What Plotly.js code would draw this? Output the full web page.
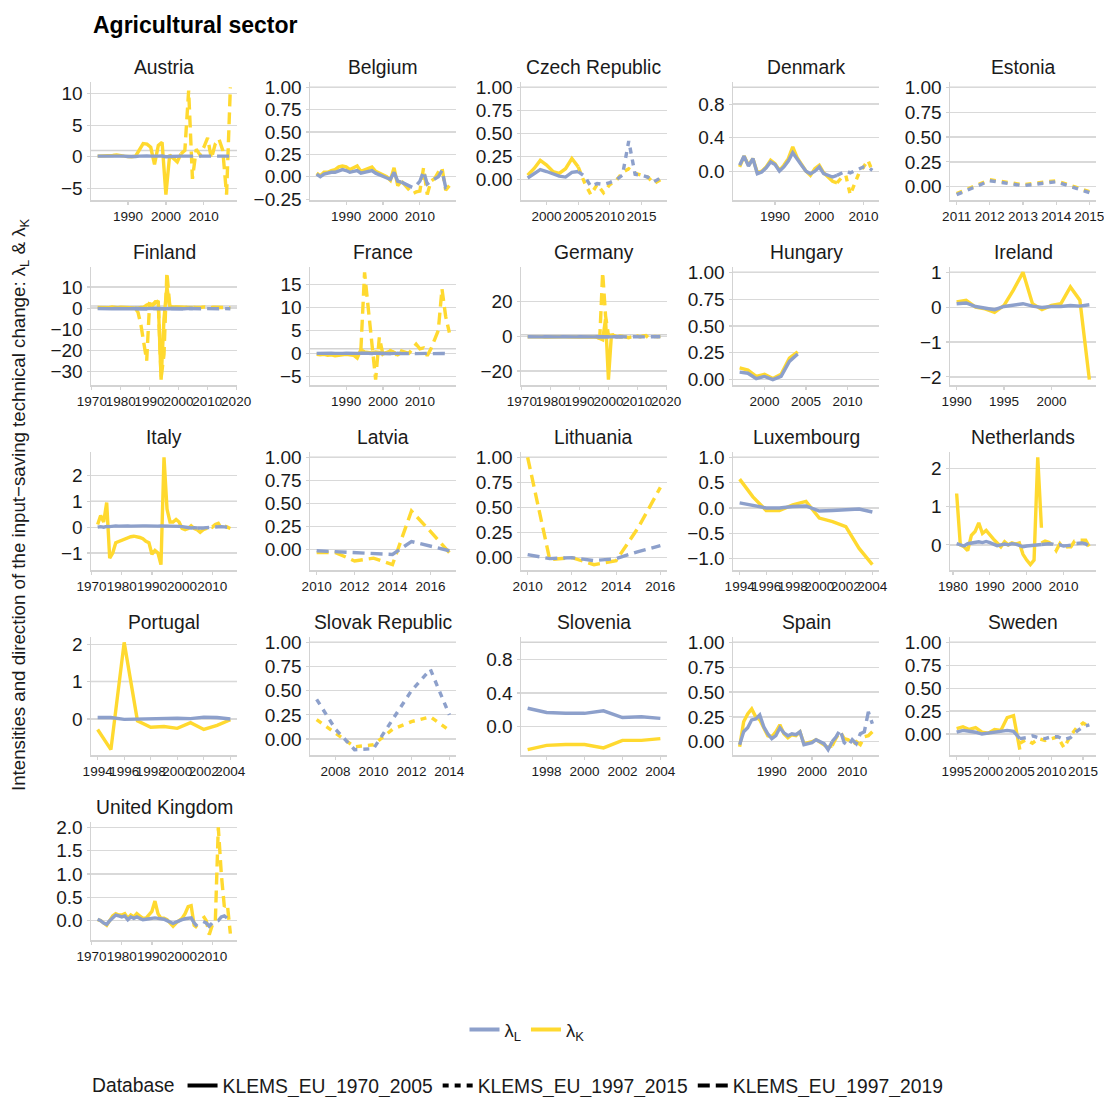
<!DOCTYPE html>
<html><head><meta charset="utf-8">
<script src="https://cdn.plot.ly/plotly-3.0.1.min.js"></script>
<style>html,body{margin:0;padding:0;background:#fff}</style>
</head><body><div id="chart" style="width:1104px;height:1097px"></div>
<script>
// ---------- DATA ----------
const databases = ["KLEMS_EU_1970_2005", "KLEMS_EU_1997_2015", "KLEMS_EU_1997_2019"];

// Austria
const AT_yr1 = [1982,1983,1984,1985,1986,1987,1988,1989,1990,1991,1992,1993,1994,1995,1996,1997,1998,1999,2000,2001,2002,2003,2004];
const AT_K1 = [0.1,0.1,0.15,0.2,0.2,0.3,0.15,0.1,0.05,0.0,0.1,1.0,2.1,2.0,1.5,-1.2,1.8,2.3,-6.0,0.3,-0.3,-0.8,0.5];
const AT_L1 = [0.1,0.12,0.1,0.15,0.12,0.1,0.08,0.1,0.05,0.02,0.05,0.1,0.15,0.12,0.1,0.05,0.1,0.12,0.0,0.05,0.08,0.05,0.1];
const AT_yr2 = [2004,2005,2006,2007,2008,2009,2010,2011,2012,2013,2014,2015,2016,2017];
const AT_K2 = [0.5,1.0,10.5,-3.5,1.2,0.3,1.5,3.0,-0.3,2.0,2.8,1.0,-6.0,11.0];
const AT_L2 = [0.1,0.1,0.12,0.1,0.05,0.05,0.1,0.1,0.05,0.05,0.08,0.1,0.05,0.1];
const AT_xt = ["1990","2000","2010"];
const AT_yt = ["−5","0","5","10"];

// Belgium
const BE_yr1 = [1982,1983,1984,1985,1986,1987,1988,1989,1990,1991,1992,1993,1994,1995,1996,1997,1998,1999,2000,2001,2002,2003,2004,2005];
const BE_K1 = [0.04,0.01,0.05,0.05,0.07,0.08,0.11,0.12,0.11,0.08,0.10,0.12,0.06,0.08,0.09,0.11,0.06,0.04,0.03,0.0,-0.04,0.1,-0.1,-0.05];
const BE_L1 = [0.03,0.0,0.03,0.04,0.05,0.05,0.07,0.08,0.07,0.05,0.06,0.07,0.04,0.05,0.06,0.07,0.04,0.02,0.0,-0.01,-0.03,0.05,-0.05,-0.06];
const BE_yr2 = [2005,2006,2007,2008,2009,2010,2011,2012,2013,2014,2015,2016,2017,2018];
const BE_K2 = [-0.05,-0.1,-0.15,-0.19,-0.17,-0.16,0.1,-0.2,-0.05,-0.02,0.05,0.1,-0.15,-0.1];
const BE_L2 = [-0.06,-0.08,-0.1,-0.12,-0.1,-0.05,0.06,-0.08,-0.05,-0.03,0.0,0.07,-0.12,-0.1];
const BE_xt = ["1990","2000","2010"];
const BE_yt = ["−0.25","0.00","0.25","0.50","0.75","1.00"];

// Czech Republic
const CZ_yr1 = [1997,1998,1999,2000,2001,2002,2003,2004,2005];
const CZ_K1 = [0.05,0.12,0.21,0.16,0.09,0.07,0.12,0.23,0.14];
const CZ_L1 = [0.02,0.07,0.11,0.09,0.06,0.04,0.03,0.08,0.09];
const CZ_yr2 = [2005,2006,2007,2008,2009,2010,2011,2012,2013,2014,2015,2016,2017,2018];
const CZ_K2 = [0.14,-0.03,-0.16,-0.05,-0.14,-0.05,-0.01,0.08,0.12,0.07,0.05,0.03,-0.04,0.0];
const CZ_L2 = [0.09,0.04,-0.07,-0.04,-0.05,-0.03,0.0,0.05,0.42,0.06,0.05,0.03,-0.02,0.02];
const CZ_xt = ["2000","2005","2010","2015"];
const CZ_yt = ["0.00","0.25","0.50","0.75","1.00"];

// Denmark
const DK_yr1 = [1982,1983,1984,1985,1986,1987,1988,1989,1990,1991,1992,1993,1994,1995,1996,1997,1998,1999,2000,2001,2002,2003,2004];
const DK_K1 = [0.05,0.18,0.07,0.15,-0.02,0.0,0.05,0.13,0.09,0.01,0.07,0.15,0.29,0.16,0.08,0.0,-0.05,0.03,0.07,-0.02,-0.07,-0.12,-0.14];
const DK_L1 = [0.07,0.18,0.06,0.15,-0.03,-0.01,0.04,0.11,0.08,0.0,0.05,0.12,0.22,0.14,0.07,0.0,-0.03,0.0,0.05,-0.03,-0.05,-0.07,-0.05];
const DK_yr2 = [2004,2005,2006,2007,2008,2009,2010,2011,2012];
const DK_K2 = [-0.14,-0.08,-0.05,-0.28,-0.15,-0.02,0.05,0.13,0.0];
const DK_L2 = [-0.05,-0.03,0.0,-0.02,0.0,0.02,0.05,0.05,0.01];
const DK_xt = ["1990","2000","2010"];
const DK_yt = ["0.0","0.4","0.8"];

// Estonia
const EE_yr2 = [2011,2012,2013,2014,2015];
const EE_K2 = [-0.07,0.07,0.02,0.06,-0.05];
const EE_L2 = [-0.08,0.06,0.01,0.05,-0.06];
const EE_xt = ["2011","2012","2013","2014","2015"];
const EE_yt = ["0.00","0.25","0.50","0.75","1.00"];

// Finland
const FI_yr1 = [1972,1973,1974,1975,1976,1977,1978,1979,1980,1981,1982,1983,1984,1985,1986,1987,1988,1989,1990,1991,1992,1993,1994,1995,1996,1997,1998,1999,2000,2001,2002,2003,2004,2005];
const FI_K1 = [0.3,0.2,0.4,0.3,0.2,0.5,0.3,0.2,0.4,0.3,0.2,0.3,0.4,0.2,0.0,0.3,0.5,1.5,2.0,1.5,2.5,3.5,-34.0,-5.0,10.0,1.0,0.5,0.4,0.3,0.5,0.3,0.4,0.3,0.3];
const FI_L1 = [-0.2,-0.3,-0.2,-0.3,-0.2,-0.3,-0.2,-0.3,-0.2,-0.3,-0.2,-0.3,-0.2,-0.3,-0.2,-0.3,-0.2,-0.3,-0.1,-0.2,-0.3,-0.2,-0.4,-0.2,-0.3,-0.2,-0.3,-0.2,-0.3,-0.2,-0.3,-0.2,-0.3,-0.2];
const FI_yr2 = [1985,1986,1987,1988,1989,1990,1991,1992,1993,1994,1995,1996,1997,1998,1999,2000,2001,2002,2003,2004,2005,2006,2007,2008,2009,2010,2011,2012,2013,2014,2015,2016,2017,2018];
const FI_K2 = [0.0,-2.0,-8.0,-17.0,-25.0,2.0,1.5,3.0,3.0,-33.0,-22.0,17.0,1.0,0.5,0.3,0.5,0.3,0.2,0.4,0.3,0.5,0.3,0.2,0.4,0.6,0.3,0.2,0.4,0.3,0.6,0.3,0.2,0.3,0.2];
const FI_L2 = [-0.2,-0.3,-0.2,-0.3,-0.2,-0.3,-0.2,-0.3,-0.2,-0.3,-0.2,-0.3,-0.2,-0.3,-0.2,-0.3,-0.2,-0.3,-0.2,-0.3,-0.2,-0.3,-0.2,-0.3,-0.2,-0.3,-0.2,-0.3,-0.2,-0.3,-0.2,-0.3,-0.2,-0.3];
const FI_xt = ["1970","1980","1990","2000","2010","2020"];
const FI_yt = ["−30","−20","−10","0","10"];

// France
const FR_yr1 = [1982,1983,1984,1985,1986,1987,1988,1989,1990,1991,1992,1993,1994,1995,1996,1997,1998,1999,2000,2001,2002,2003,2004,2005];
const FR_K1 = [-0.2,-0.3,-0.2,-0.4,-0.3,-0.5,-0.4,-0.3,-0.2,-0.3,-0.4,-1.0,0.8,0.3,0.2,0.1,0.3,0.2,-0.1,0.3,0.5,0.2,-0.3,0.2];
const FR_L1 = [0.0,0.05,-0.05,0.0,0.05,0.0,-0.05,0.0,0.05,0.0,-0.05,0.0,0.05,0.0,-0.05,0.0,0.05,0.0,0.1,0.0,-0.05,0.0,0.05,0.0];
const FR_yr2 = [1994,1995,1996,1997,1998,1999,2000,2001,2002,2003,2004,2005,2006,2007,2008,2009,2010,2011,2012,2013,2014,2015,2016,2017,2018];
const FR_K2 = [0.8,17.6,9.8,2.0,-5.7,3.5,-0.3,-0.5,0.6,0.2,-0.5,0.5,0.3,0.0,1.0,2.0,1.0,1.2,-0.5,1.0,3.0,5.0,14.0,8.0,4.5];
const FR_L2 = [0.0,0.05,0.0,-0.05,0.0,0.05,0.0,-0.05,0.0,0.05,0.0,-0.05,0.0,0.05,0.0,-0.05,0.0,0.05,0.0,-0.05,0.0,0.05,0.0,-0.05,0.0];
const FR_xt = ["1990","2000","2010"];
const FR_yt = ["−5","0","5","10","15"];

// Germany
const DE_yr1 = [1972,1973,1974,1975,1976,1977,1978,1979,1980,1981,1982,1983,1984,1985,1986,1987,1988,1989,1990,1991,1992,1993,1994,1995,1996,1997,1998,1999,2000,2001,2002,2003,2004,2005];
const DE_K1 = [-0.3,-0.2,-0.4,-0.3,-0.2,-0.3,-0.4,-0.3,-0.2,-0.3,-0.4,-0.3,-0.2,-0.3,-0.4,-0.3,-0.2,-0.3,-0.4,-0.3,-0.2,-0.5,-0.3,-0.4,-0.5,-1.5,-2.0,10.0,-25.0,0.0,0.5,-0.3,0.2,-0.2];
const DE_L1 = [-0.2,-0.3,-0.2,-0.3,-0.2,-0.3,-0.2,-0.3,-0.2,-0.3,-0.2,-0.3,-0.2,-0.3,-0.2,-0.3,-0.2,-0.3,-0.2,-0.3,-0.2,-0.3,-0.2,-0.3,-0.2,-0.3,-0.2,-0.3,-0.2,-0.3,-0.2,-0.3,-0.2,-0.3];
const DE_yr2 = [1996,1997,1998,1999,2000,2001,2002,2003,2004,2005,2006,2007,2008,2009,2010,2011,2012,2013,2014,2015,2016,2017,2018];
const DE_K2 = [-0.5,-1.0,37.0,12.0,0.5,0.8,1.0,0.2,-0.3,0.0,-0.5,-0.8,-0.3,-0.5,0.2,-0.3,0.3,0.5,-1.0,-0.3,0.0,-0.2,0.0];
const DE_L2 = [-0.2,-0.3,-0.2,-0.3,-0.2,-0.3,-0.2,-0.3,-0.2,-0.3,-0.2,-0.3,-0.2,-0.3,-0.2,-0.3,-0.2,-0.3,-0.2,-0.3,-0.2,-0.3,-0.2];
const DE_xt = ["1970","1980","1990","2000","2010","2020"];
const DE_yt = ["−20","0","20"];

// Hungary
const HU_yr1 = [1997,1998,1999,2000,2001,2002,2003,2004];
const HU_K1 = [0.11,0.09,0.03,0.05,0.01,0.05,0.2,0.26];
const HU_L1 = [0.07,0.06,0.01,0.03,0.0,0.03,0.17,0.24];
const HU_span = [1997, 2013];
const HU_xt = ["2000","2005","2010"];
const HU_yt = ["0.00","0.25","0.50","0.75","1.00"];

// Ireland
const IE_yr1 = [1990,1991,1992,1993,1994,1995,1996,1997,1998,1999,2000,2001,2002,2003,2004];
const IE_K1 = [0.15,0.2,0.0,-0.05,-0.15,0.05,0.5,1.0,0.1,-0.07,0.05,0.1,0.58,0.2,-2.08];
const IE_L1 = [0.1,0.12,0.02,-0.03,-0.07,0.02,0.06,0.1,0.03,-0.01,0.02,0.02,0.05,0.03,0.07];
const IE_xt = ["1990","1995","2000"];
const IE_yt = ["−2","−1","0","1"];

// Italy
const IT_yr1 = [1972,1973,1974,1975,1976,1977,1978,1979,1980,1981,1982,1983,1984,1985,1986,1987,1988,1989,1990,1991,1992,1993,1994,1995,1996,1997,1998,1999,2000,2001,2002,2003,2004,2005];
const IT_K1 = [0.1,0.45,0.2,0.95,-1.2,-1.0,-0.6,-0.55,-0.5,-0.45,-0.4,-0.37,-0.35,-0.37,-0.4,-0.45,-0.55,-0.6,-1.05,-0.9,-1.0,-1.45,2.7,0.7,0.2,0.2,0.3,0.2,-0.05,-0.1,-0.05,0.05,-0.05,-0.1];
const IT_L1 = [0.0,0.02,0.0,0.03,0.02,0.04,0.05,0.04,0.05,0.05,0.05,0.04,0.05,0.05,0.06,0.05,0.05,0.04,0.05,0.05,0.04,0.05,0.05,0.06,0.05,0.05,0.04,0.03,0.02,0.0,-0.02,-0.03,-0.02,-0.03];
const IT_yr2 = [2005,2006,2007,2008,2009,2010,2011,2012,2013,2014,2015,2016];
const IT_K2 = [-0.1,-0.2,-0.1,-0.05,0.05,0.0,0.1,0.15,-0.05,0.05,0.0,-0.05];
const IT_L2 = [-0.03,-0.04,-0.03,-0.02,-0.01,0.0,0.02,0.03,0.02,0.01,0.0,-0.02];
const IT_xt = ["1970","1980","1990","2000","2010"];
const IT_yt = ["−1","0","1","2"];

// Latvia
const LV_yr2 = [2010,2011,2012,2013,2014,2015,2016,2017];
const LV_K2 = [-0.03,-0.03,-0.12,-0.09,-0.16,0.42,0.2,-0.03];
const LV_L2 = [-0.01,-0.02,-0.03,-0.04,-0.05,0.09,0.04,-0.01];
const LV_xt = ["2010","2012","2014","2016"];
const LV_yt = ["0.00","0.25","0.50","0.75","1.00"];

// Lithuania
const LT_yr2 = [2010,2011,2012,2013,2014,2015,2016];
const LT_K2 = [1.0,-0.02,0.0,-0.07,-0.03,0.3,0.7];
const LT_L2 = [0.03,-0.01,0.0,-0.03,-0.01,0.06,0.12];
const LT_xt = ["2010","2012","2014","2016"];
const LT_yt = ["0.00","0.25","0.50","0.75","1.00"];

// Luxembourg
const LU_yr1 = [1994,1995,1996,1997,1998,1999,2000,2001,2002,2003,2004];
const LU_K1 = [0.57,0.22,-0.05,-0.05,0.06,0.13,-0.2,-0.27,-0.37,-0.8,-1.12];
const LU_L1 = [0.1,0.05,0.0,0.0,0.03,0.04,-0.06,-0.05,-0.04,-0.02,-0.08];
const LU_xt = ["1994","1996","1998","2000","2002","2004"];
const LU_yt = ["−1.0","−0.5","0.0","0.5","1.0"];

// Netherlands
const NL_yr1 = [1981,1982,1983,1984,1985,1986,1987,1988,1989,1990,1991,1992,1993,1994,1995,1996,1997,1998,1999,2000,2001,2002,2003,2004];
const NL_K1 = [1.35,0.0,-0.05,-0.15,0.25,0.35,0.58,0.3,0.38,0.25,0.15,0.05,-0.05,0.08,0.0,0.05,0.02,0.05,-0.25,-0.4,-0.52,-0.4,2.3,0.45];
const NL_L1 = [0.03,0.0,-0.03,0.03,0.05,0.06,0.08,0.06,0.09,0.06,0.03,-0.02,0.0,0.02,0.0,0.03,0.02,-0.02,-0.05,-0.03,-0.02,0.0,0.02,0.01];
const NL_yr2 = [2004,2005,2006,2007,2008,2009,2010,2011,2012,2013,2014,2015,2016,2017];
const NL_K2 = [0.05,0.1,0.07,0.0,-0.15,0.03,-0.1,-0.05,-0.05,0.1,0.12,0.13,0.12,-0.05];
const NL_L2 = [0.01,0.03,0.03,0.02,-0.02,0.0,-0.03,-0.02,-0.01,0.03,0.05,0.05,0.03,-0.05];
const NL_xt = ["1980","1990","2000","2010"];
const NL_yt = ["0","1","2"];

// Portugal
const PT_yr1 = [1994,1995,1996,1997,1998,1999,2000,2001,2002,2003,2004];
const PT_K1 = [-0.28,-0.82,2.05,-0.05,-0.22,-0.2,-0.25,-0.1,-0.28,-0.17,-0.02];
const PT_L1 = [0.04,0.04,-0.01,0.0,0.01,0.01,0.02,0.01,0.05,0.04,0.0];
const PT_xt = ["1994","1996","1998","2000","2002","2004"];
const PT_yt = ["0","1","2"];

// Slovak Republic
const SK_yr2 = [2007,2008,2009,2010,2011,2012,2013,2014];
const SK_K2 = [0.2,0.06,-0.08,-0.06,0.1,0.18,0.23,0.09];
const SK_L2 = [0.41,0.1,-0.11,-0.1,0.2,0.5,0.72,0.25];
const SK_xt = ["2008","2010","2012","2014"];
const SK_yt = ["0.00","0.25","0.50","0.75","1.00"];

// Slovenia
const SI_yr1 = [1997,1998,1999,2000,2001,2002,2003,2004];
const SI_K1 = [-0.27,-0.22,-0.21,-0.21,-0.25,-0.16,-0.16,-0.14];
const SI_L1 = [0.22,0.17,0.16,0.16,0.19,0.11,0.12,0.1];
const SI_xt = ["1998","2000","2002","2004"];
const SI_yt = ["0.0","0.4","0.8"];

// Spain
const ES_yr1 = [1982,1983,1984,1985,1986,1987,1988,1989,1990,1991,1992,1993,1994,1995,1996,1997,1998,1999,2000,2001,2002,2003,2004,2005];
const ES_K1 = [-0.05,0.2,0.28,0.33,0.25,0.22,0.14,0.06,0.05,0.1,0.17,0.08,0.04,0.07,0.06,0.1,-0.02,-0.01,0.0,0.02,-0.01,-0.04,-0.06,-0.04];
const ES_L1 = [-0.03,0.1,0.14,0.22,0.23,0.27,0.15,0.08,0.03,0.06,0.14,0.09,0.06,0.08,0.07,0.1,-0.03,-0.02,-0.01,0.02,0.0,-0.02,-0.08,0.0];
const ES_yr2 = [2005,2006,2007,2008,2009,2010,2011,2012,2013,2014,2015];
const ES_K2 = [-0.04,0.04,0.1,0.03,0.02,-0.03,0.0,-0.03,0.05,0.06,0.1];
const ES_L2 = [0.0,0.05,0.12,-0.01,-0.04,0.02,-0.02,0.08,0.1,0.3,0.18];
const ES_xt = ["1990","2000","2010"];
const ES_yt = ["0.00","0.25","0.50","0.75","1.00"];

// Sweden
const SE_yr1 = [1995,1996,1997,1998,1999,2000,2001,2002,2003,2004,2005];
const SE_K1 = [0.06,0.08,0.05,0.07,0.02,0.01,0.05,0.04,0.18,0.2,-0.17];
const SE_L1 = [0.02,0.04,0.03,0.02,0.0,0.01,0.02,0.03,0.04,0.03,-0.05];
const SE_yr2 = [2005,2006,2007,2008,2009,2010,2011,2012,2013,2014,2015,2016];
const SE_K2 = [-0.1,-0.06,-0.1,-0.05,-0.07,-0.05,-0.03,-0.15,-0.02,0.07,0.12,0.08];
const SE_L2 = [-0.05,-0.04,-0.02,-0.04,-0.05,-0.03,-0.03,-0.06,-0.04,0.03,0.08,0.1];
const SE_xt = ["1995","2000","2005","2010","2015"];
const SE_yt = ["−0.25","0.00","0.25","0.50","0.75","1.00"];

// United Kingdom
const UK_yr1 = [1972,1973,1974,1975,1976,1977,1978,1979,1980,1981,1982,1983,1984,1985,1986,1987,1988,1989,1990,1991,1992,1993,1994,1995,1996,1997,1998,1999,2000,2001,2002,2003,2004,2005];
const UK_K1 = [0.02,0.0,-0.05,-0.1,0.0,0.1,0.15,0.12,0.12,0.15,0.05,0.12,0.08,0.15,0.1,0.05,0.05,0.12,0.2,0.42,0.15,0.05,0.05,0.02,-0.05,-0.12,-0.05,0.0,0.05,0.15,0.3,0.32,-0.1,-0.15];
const UK_L1 = [0.03,0.0,-0.05,-0.08,0.0,0.05,0.12,0.1,0.08,0.1,0.02,0.08,0.05,0.08,0.04,0.02,0.03,0.04,0.05,0.06,0.05,0.04,0.03,0.0,-0.03,-0.06,-0.03,0.0,0.02,0.04,0.05,0.06,-0.05,-0.12];
const UK_yr2 = [2007,2008,2009,2010,2011,2012,2013,2014,2015,2016];
const UK_K2 = [0.1,0.0,-0.3,-0.1,-0.05,2.0,1.0,0.3,0.35,-0.28];
const UK_L2 = [-0.02,-0.05,-0.12,-0.05,-0.02,0.0,0.08,0.1,0.05,-0.05];
const UK_xt = ["1970","1980","1990","2000","2010"];
const UK_yt = ["−0.5","0.0","0.5","1.0","1.5","2.0"];

// ---------- PANEL TABLE (built from the arrays) ----------
const panels = [
  {name:"Austria", xt:AT_xt, yt:AT_yt, segs:[[AT_yr1,AT_L1,AT_K1,0],[AT_yr2,AT_L2,AT_K2,2]]},
  {name:"Belgium", xt:BE_xt, yt:BE_yt, segs:[[BE_yr1,BE_L1,BE_K1,0],[BE_yr2,BE_L2,BE_K2,2]]},
  {name:"Czech Republic", xt:CZ_xt, yt:CZ_yt, segs:[[CZ_yr1,CZ_L1,CZ_K1,0],[CZ_yr2,CZ_L2,CZ_K2,1]]},
  {name:"Denmark", xt:DK_xt, yt:DK_yt, segs:[[DK_yr1,DK_L1,DK_K1,0],[DK_yr2,DK_L2,DK_K2,1]]},
  {name:"Estonia", xt:EE_xt, yt:EE_yt, segs:[[EE_yr2,EE_L2,EE_K2,1]]},
  {name:"Finland", xt:FI_xt, yt:FI_yt, segs:[[FI_yr1,FI_L1,FI_K1,0],[FI_yr2,FI_L2,FI_K2,2]]},
  {name:"France", xt:FR_xt, yt:FR_yt, segs:[[FR_yr1,FR_L1,FR_K1,0],[FR_yr2,FR_L2,FR_K2,2]]},
  {name:"Germany", xt:DE_xt, yt:DE_yt, segs:[[DE_yr1,DE_L1,DE_K1,0],[DE_yr2,DE_L2,DE_K2,2]]},
  {name:"Hungary", xt:HU_xt, yt:HU_yt, span:HU_span, segs:[[HU_yr1,HU_L1,HU_K1,0]]},
  {name:"Ireland", xt:IE_xt, yt:IE_yt, segs:[[IE_yr1,IE_L1,IE_K1,0]]},
  {name:"Italy", xt:IT_xt, yt:IT_yt, segs:[[IT_yr1,IT_L1,IT_K1,0],[IT_yr2,IT_L2,IT_K2,2]]},
  {name:"Latvia", xt:LV_xt, yt:LV_yt, segs:[[LV_yr2,LV_L2,LV_K2,2]]},
  {name:"Lithuania", xt:LT_xt, yt:LT_yt, segs:[[LT_yr2,LT_L2,LT_K2,2]]},
  {name:"Luxembourg", xt:LU_xt, yt:LU_yt, segs:[[LU_yr1,LU_L1,LU_K1,0]]},
  {name:"Netherlands", xt:NL_xt, yt:NL_yt, segs:[[NL_yr1,NL_L1,NL_K1,0],[NL_yr2,NL_L2,NL_K2,2]]},
  {name:"Portugal", xt:PT_xt, yt:PT_yt, segs:[[PT_yr1,PT_L1,PT_K1,0]]},
  {name:"Slovak Republic", xt:SK_xt, yt:SK_yt, segs:[[SK_yr2,SK_L2,SK_K2,1]]},
  {name:"Slovenia", xt:SI_xt, yt:SI_yt, segs:[[SI_yr1,SI_L1,SI_K1,0]]},
  {name:"Spain", xt:ES_xt, yt:ES_yt, segs:[[ES_yr1,ES_L1,ES_K1,0],[ES_yr2,ES_L2,ES_K2,2]]},
  {name:"Sweden", xt:SE_xt, yt:SE_yt, segs:[[SE_yr1,SE_L1,SE_K1,0],[SE_yr2,SE_L2,SE_K2,1]]},
  {name:"United Kingdom", xt:UK_xt, yt:UK_yt, segs:[[UK_yr1,UK_L1,UK_K1,0],[UK_yr2,UK_L2,UK_K2,2]]}
];

// ---------- STYLE / GEOMETRY ----------
const W = 1104, H = 1097;
const FONT = "Liberation Sans, Arial, Helvetica, sans-serif";
const COL_L = "#8DA0CB", COL_K = "#FFD92F";
const DASH = ["solid", "6px,6px", "12px,6px"];
const colLeft = [91, 310, 521, 733, 950];
const rowTop = [82, 267, 452, 637, 822];
const PW = 146, PH = 118;
const GRID = "#D9D9D9", AXC = "#D3D3D3";
const LW = 3.4;

const num = s => parseFloat(String(s).replace("−", "-"));

const traces = [];
const layout = {
  width: W, height: H, margin: {l:0, r:0, t:0, b:0, autoexpand: false},
  paper_bgcolor: "#fff", plot_bgcolor: "#fff",
  font: {family: FONT, color: "#1a1a1a"},
  showlegend: true,
  annotations: [], shapes: []
};

panels.forEach((p, i) => {
  const c = i % 5, r = Math.floor(i / 5);
  const s = i === 0 ? "" : String(i + 1);
  const L = colLeft[c], T = rowTop[r];
  // ranges (5% expansion, y includes the reference line at 1)
  let xlo = Infinity, xhi = -Infinity, ylo = 1, yhi = 1;
  p.segs.forEach(([yr, l, k]) => {
    yr.forEach(v => { xlo = Math.min(xlo, v); xhi = Math.max(xhi, v); });
    l.concat(k).forEach(v => { ylo = Math.min(ylo, v); yhi = Math.max(yhi, v); });
  });
  if (p.span) { xlo = Math.min(xlo, p.span[0]); xhi = Math.max(xhi, p.span[1]); }
  const xp = 0.05 * (xhi - xlo), yp = 0.05 * (yhi - ylo);

  layout["xaxis" + s] = {
    domain: [L / W, (L + PW) / W], anchor: "y" + s,
    range: [xlo - xp, xhi + xp],
    tickmode: "array", tickvals: p.xt.map(num), ticktext: p.xt, tickangle: 0,
    ticklabeloverflow: "allow",
    ticks: "outside", ticklen: 3, tickwidth: 1.2, tickcolor: AXC,
    showline: true, linecolor: AXC, linewidth: 1.5,
    showgrid: false, zeroline: false,
    tickfont: {size: 13.5, color: "#1a1a1a", family: FONT}
  };
  layout["yaxis" + s] = {
    domain: [1 - (T + PH) / H, 1 - T / H], anchor: "x" + s,
    range: [ylo - yp, yhi + yp],
    tickmode: "array", tickvals: p.yt.map(num), ticktext: p.yt, tickangle: 0,
    ticklabeloverflow: "allow",
    ticks: "outside", ticklen: 3, tickwidth: 1.2, tickcolor: AXC,
    showline: true, linecolor: AXC, linewidth: 1.5,
    showgrid: true, gridcolor: GRID, gridwidth: 1.3, zeroline: false,
    tickfont: {size: 19, color: "#1a1a1a", family: FONT}
  };
  layout.shapes.push({
    type: "line", layer: "below", xref: "x" + s + " domain", yref: "y" + s,
    x0: 0, x1: 1, y0: 1, y1: 1, line: {color: AXC, width: 1.5}
  });
  layout.annotations.push({
    text: p.name, xref: "paper", yref: "paper",
    x: (L + PW / 2) / W, y: 1 - (T - 2) / H, xanchor: "center", yanchor: "bottom",
    showarrow: false, font: {size: 19.3, family: FONT, color: "#1a1a1a"}
  });
  p.segs.forEach(([yr, l, k, db]) => {
    traces.push({x: yr, y: k, xaxis: "x" + s, yaxis: "y" + s, mode: "lines", showlegend: false, hoverinfo: "skip",
      line: {color: COL_K, width: LW, dash: DASH[db]}});
  });
  p.segs.forEach(([yr, l, k, db]) => {
    traces.push({x: yr, y: l, xaxis: "x" + s, yaxis: "y" + s, mode: "lines", showlegend: false, hoverinfo: "skip",
      line: {color: COL_L, width: LW, dash: DASH[db]}});
  });
});

// legend entries
traces.push({x: [null], y: [null], mode: "lines", name: "λ<sub>L</sub>", legend: "legend", line: {color: COL_L, width: 4}});
traces.push({x: [null], y: [null], mode: "lines", name: "λ<sub>K</sub>", legend: "legend", line: {color: COL_K, width: 4}});
databases.forEach((d, j) => {
  traces.push({x: [null], y: [null], mode: "lines", name: d, legend: "legend2", line: {color: "#000", width: 4, dash: DASH[j]}});
});

layout.legend = {orientation: "h", x: 527 / W, xanchor: "center", y: 1 - 1030 / H, yanchor: "middle",
  font: {size: 18.5, family: FONT, color: "#1a1a1a"}, bgcolor: "rgba(0,0,0,0)", traceorder: "normal"};
layout.legend2 = {orientation: "h", x: 90 / W, xanchor: "left", y: 1 - 1086 / H, yanchor: "middle",
  font: {size: 19.3, family: FONT, color: "#1a1a1a"}, bgcolor: "rgba(0,0,0,0)",
  title: {text: "Database", side: "left", font: {size: 19.3, family: FONT, color: "#1a1a1a"}}};

// main title and y-axis title
layout.annotations.push({
  text: "<b>Agricultural sector</b>", xref: "paper", yref: "paper",
  x: 91 / W, y: 1 - 25 / H, xanchor: "left", yanchor: "middle", showarrow: false,
  font: {size: 23, family: FONT, color: "#000"}
});
layout.annotations.push({
  text: "Intensities and direction of the input−saving technical change: λ<sub>L</sub> &amp; λ<sub>K</sub>",
  xref: "paper", yref: "paper", x: 20 / W, y: 1 - 505 / H, xanchor: "center", yanchor: "middle",
  textangle: -90, showarrow: false, font: {size: 18.7, family: FONT, color: "#1a1a1a"}
});

Plotly.newPlot("chart", traces, layout, {staticPlot: true, displayModeBar: false});
</script></body></html>
